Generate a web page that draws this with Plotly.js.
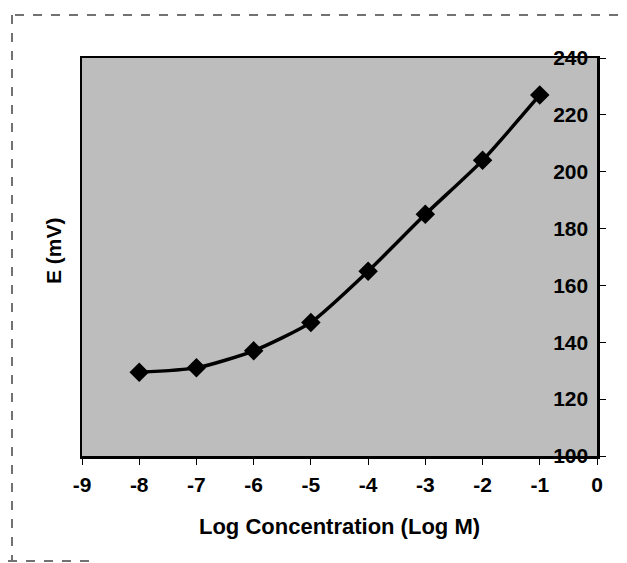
<!DOCTYPE html>
<html>
<head>
<meta charset="utf-8">
<script src="https://cdn.plot.ly/plotly-3.0.1.min.js"></script>
<style>
html,body{margin:0;padding:0;background:#fff;}
#chart{width:627px;height:563px;}
</style>
</head>
<body>
<div id="chart"></div>
<script>
var logConc = [-8, -7, -6, -5, -4, -3, -2, -1];
var potential = [129.5, 131, 137, 147, 165, 185, 204, 227];
var xTicks = [-9, -8, -7, -6, -5, -4, -3, -2, -1, 0];
var yTicks = [100, 120, 140, 160, 180, 200, 220, 240];

var W = 627, H = 563;
var M = {l: 82, r: 30, t: 58, b: 107};
function px(x){ return (x - M.l) / (W - M.l - M.r); }
function py(y){ return (H - M.b - y) / (H - M.t - M.b); }

var fam = 'Liberation Sans, Arial, sans-serif';

var trace = {
  x: logConc, y: potential, type: 'scatter', mode: 'lines+markers',
  line: {color: '#000', width: 3.5, shape: 'spline', smoothing: 0.6},
  marker: {symbol: 'diamond', size: 15, color: '#000'},
  hoverinfo: 'skip'
};

var layout = {
  width: W, height: H,
  margin: M,
  paper_bgcolor: '#fff',
  plot_bgcolor: '#bdbdbd',
  showlegend: false,
  font: {family: fam, color: '#000', size: 20, weight: 'bold'},
  xaxis: {
    range: [-9, 0], tickvals: xTicks, ticktext: xTicks.map(String),
    showgrid: false, zeroline: false,
    showline: true, linecolor: '#000', linewidth: 2.5, mirror: true,
    ticks: 'outside', ticklen: 6, tickwidth: 1, tickcolor: '#000',
    ticklabelstandoff: 2,
    tickfont: {family: fam, size: 21, color: '#000', weight: 'bold'},
    title: {text: 'Log Concentration (Log M)', font: {family: fam, size: 22, color: '#000', weight: 'bold'}, standoff: 24}
  },
  yaxis: {
    range: [100, 240], tickvals: yTicks, ticktext: yTicks.map(String),
    side: 'right', ticklabelposition: 'inside', ticklabeloverflow: 'allow',
    showgrid: false, zeroline: false,
    showline: true, linecolor: '#000', linewidth: 2.5, mirror: true,
    ticks: 'outside', ticklen: 6, tickwidth: 1, tickcolor: '#000',
    ticklabelstandoff: 10,
    tickfont: {family: fam, size: 21, color: '#000', weight: 'bold'}
  },
  annotations: [{
    text: 'E (mV)', xref: 'paper', yref: 'paper', x: px(53), y: py(251),
    xanchor: 'center', yanchor: 'middle',
    showarrow: false, textangle: -90,
    font: {family: fam, size: 21, color: '#000', weight: 'bold'}
  }],
  shapes: [
    {type: 'line', xref: 'paper', yref: 'paper', x0: px(15), x1: px(627), y0: py(15), y1: py(15),
     line: {color: '#444', width: 1.5, dash: 'dash'}},
    {type: 'line', xref: 'paper', yref: 'paper', x0: px(12), x1: px(12), y0: py(15), y1: py(560),
     line: {color: '#444', width: 1.5, dash: 'dash'}},
    {type: 'line', xref: 'paper', yref: 'paper', x0: px(8), x1: px(90), y0: py(561), y1: py(561),
     line: {color: '#444', width: 1.5, dash: 'dash'}}
  ]
};

Plotly.newPlot('chart', [trace], layout, {displayModeBar: false, staticPlot: true});
</script>
</body>
</html>
